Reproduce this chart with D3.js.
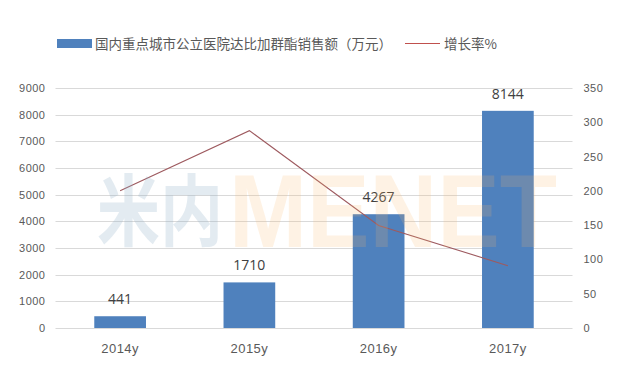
<!DOCTYPE html>
<html lang="zh">
<head>
  <meta charset="UTF-8" />
  <title>国内重点城市公立医院达比加群酯销售额</title>
  <script src="https://d3js.org/d3.v7.min.js"></script>
  <style>
    body { margin:0; padding:0; background:#fff; }
    svg { display:block; font-family:"Open Sans","Liberation Sans",sans-serif; }
    .tick text { fill:#595959; font-size:11px; letter-spacing:0.5px; }
    .cjk { font-family:"Noto Sans CJK SC",sans-serif; }
  </style>
</head>
<body>
  <svg width="620" height="378"></svg>
  <script>
  // chart data
  const years   = ["2014y", "2015y", "2016y", "2017y"];
  const sales   = [441, 1710, 4267, 8144];
  const growth  = [200, 287.8, 149.5, 90.9];
  const leftTicks  = [0, 1000, 2000, 3000, 4000, 5000, 6000, 7000, 8000, 9000];
  const rightTicks = [0, 50, 100, 150, 200, 250, 300, 350];
  const salesLabel  = "国内重点城市公立医院达比加群酯销售额（万元）";
  const growthLabel = "增长率%";

  const svg = d3.select("svg");
  const L = 55.5, R = 572.5, T = 88, B = 328;

  const x = d3.scaleBand().domain(years).range([L, R]).paddingInner(0.6).paddingOuter(0.3);
  const yL = d3.scaleLinear().domain([0, 9000]).range([B, T]);
  const yR = d3.scaleLinear().domain([0, 350]).range([B, T]);

  // gridlines
  svg.append("g").selectAll("line").data(leftTicks).enter().append("line")
    .attr("x1", L).attr("x2", R)
    .attr("y1", d => Math.round(yL(d)) + 0.5).attr("y2", d => Math.round(yL(d)) + 0.5)
    .attr("stroke", "#d9d9d9").attr("stroke-width", 1);

  // left axis
  const axL = svg.append("g").attr("transform", `translate(${L - 10},0)`)
    .call(d3.axisLeft(yL).tickValues(leftTicks).tickFormat(d3.format("d")).tickSize(0).tickPadding(0));
  axL.select(".domain").remove();

  // right axis
  const axR = svg.append("g").attr("transform", `translate(${R + 11},0)`)
    .call(d3.axisRight(yR).tickValues(rightTicks).tickFormat(d3.format("d")).tickSize(0).tickPadding(0));
  axR.select(".domain").remove();

  // bottom axis labels
  const axB = svg.append("g").attr("transform", `translate(0,${B + 16})`)
    .call(d3.axisBottom(x).tickSize(0).tickPadding(0));
  axB.select(".domain").remove();
  axB.selectAll(".tick text").style("font-size", "13px");

  // bars
  svg.append("g").selectAll("rect").data(sales).enter().append("rect")
    .attr("x", (d, i) => x(years[i]))
    .attr("width", x.bandwidth())
    .attr("y", d => yL(d))
    .attr("height", d => B - yL(d))
    .attr("fill", "#4f81bd");

  // bar value labels
  svg.append("g").selectAll("text").data(sales).enter().append("text")
    .attr("x", (d, i) => x(years[i]) + x.bandwidth() / 2)
    .attr("y", d => yL(d) - 12)
    .attr("text-anchor", "middle")
    .attr("fill", "#404040").style("font-size", "14px")
    .text(d => d);

  // growth line
  const line = d3.line()
    .x((d, i) => x(years[i]) + x.bandwidth() / 2)
    .y(d => yR(d));
  svg.append("path").datum(growth)
    .attr("d", line)
    .attr("fill", "none")
    .attr("stroke", "#9e5a5f")
    .attr("stroke-width", 1.1);

  // watermark
  const wm = svg.append("g").style("pointer-events", "none").attr("font-weight", "bold");
  wm.append("text").attr("class", "cjk")
    .attr("x", 97).attr("y", 240)
    .attr("textLength", 126).attr("lengthAdjust", "spacingAndGlyphs")
    .style("font-size", "78px")
    .attr("fill", "#8fb0c8").attr("fill-opacity", 0.25)
    .text("米内");
  wm.append("text")
    .attr("x", 229).attr("y", 247)
    .attr("textLength", 328).attr("lengthAdjust", "spacingAndGlyphs")
    .style("font-size", "104px").style("font-family", "'Liberation Sans',sans-serif")
    .attr("fill", "#f7b56a").attr("fill-opacity", 0.18)
    .text("MENET");

  // legend
  const lg = svg.append("g");
  lg.append("rect").attr("x", 57).attr("y", 39).attr("width", 35).attr("height", 9).attr("fill", "#4f81bd");
  lg.append("text").attr("class", "cjk").attr("x", 95).attr("y", 49)
    .attr("fill", "#595959").style("font-size", "13.5px")
    .text(salesLabel);
  lg.append("line").attr("x1", 405).attr("x2", 440).attr("y1", 43.5).attr("y2", 43.5)
    .attr("stroke", "#c0504d").attr("stroke-width", 1.2);
  lg.append("text").attr("class", "cjk").attr("x", 444).attr("y", 49)
    .attr("fill", "#595959").style("font-size", "13.5px")
    .text(growthLabel);
  </script>
</body>
</html>
